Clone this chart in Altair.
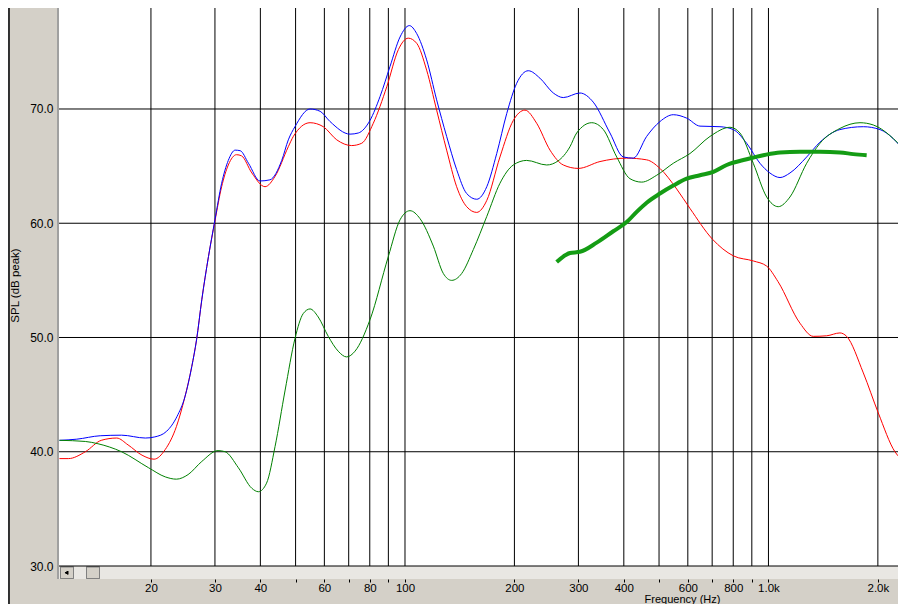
import altair as alt
import pandas as pd

# ---- data (frequency in Hz, level in dB) ----
blue_freq = [11.2, 12.5, 14.5, 16.6, 19.3, 20.5, 22.1, 23.6, 24.8, 25.9, 26.7, 27.6, 28.8, 30.0,
             31.3, 32.65, 34.1, 35.2, 37.1, 39.9, 42.5, 45.8, 47.75, 49.8, 54.8, 58.4, 62.2, 70.6,
             74.4, 80.1, 85.4, 90.9, 96.9, 102.8, 107.7, 114.7, 122.2, 130.2, 138.7, 147.8, 157.5,
             167.9, 178.8, 190.5, 202.9, 218.4, 235.1, 255.9, 272.6, 303.0, 329.6, 366.4, 398.7,
             424.8, 462.3, 502.9, 547.2, 595.7, 648.1, 735.6, 800.2, 871.0, 947.5, 1009, 1076,
             1146, 1274, 1386, 1573, 1824, 2027, 2389]
blue_db = [41.0, 41.1, 41.4, 41.45, 41.2, 41.3, 41.8, 43.1, 44.8, 47.45, 49.8, 53.3, 57.1, 60.3,
           63.5, 65.5, 66.4, 66.35, 65.25, 63.7, 63.8, 65.5, 67.3, 68.45, 70.0, 69.8, 68.9, 67.8,
           67.9, 69.0, 71.1, 73.7, 76.3, 77.3, 76.6, 74.3, 70.8, 67.6, 64.7, 62.6, 62.1,
           63.2, 66.1, 69.6, 72.25, 73.35, 72.7, 71.4, 71.0, 71.4, 70.6, 67.9, 65.8,
           65.7, 67.6, 68.9, 69.5, 69.2, 68.5, 68.45, 68.2, 67.0, 65.25, 64.4, 64.0,
           64.4, 65.8, 67.1, 68.2, 68.45, 68.2, 66.2]

red_freq = [11.2, 11.85, 13.2, 14.6, 16.1, 17.3, 18.9, 20.4, 21.9, 23.5, 24.8, 25.9, 26.7, 27.6,
            28.8, 30.0, 31.3, 32.65, 34.4, 35.5, 37.9, 41.2, 43.9, 47.75, 49.3, 54.8, 59.6, 64.9,
            71.3, 76.0, 81.8, 89.1, 95.9, 102.1, 107.7, 114.7, 122.2, 130.2, 138.7, 147.8, 157.5,
            167.9, 182.5, 198.6, 213.8, 230.3, 250.6, 272.6, 299.7, 343.9, 407.3, 462.3, 502.9,
            559.1, 608.1, 701.5, 800.2, 908.3, 988.8, 1062, 1221, 1328, 1446, 1573, 1641, 1824,
            2005, 2228, 2389]
red_db = [39.4, 39.4, 40.0, 41.0, 41.2, 40.6, 39.7, 39.35, 40.2, 42.2, 44.8, 47.45, 49.8, 53.3,
          57.1, 60.2, 63.2, 65.1, 66.0, 65.9, 64.4, 63.2, 64.1, 66.7, 67.6, 68.8, 68.45, 67.3,
          66.8, 67.0, 68.75, 71.95, 75.2, 76.2, 75.75, 73.4, 69.9, 66.4, 63.2, 61.45, 60.95,
          62.0, 65.8, 69.0, 69.9, 68.75, 66.4, 65.1, 64.8, 65.4, 65.7, 65.55, 64.8,
          63.0, 61.3, 58.6, 57.15, 56.7, 56.25, 54.9, 51.25, 50.1, 50.15, 50.4, 50.1, 46.9,
          43.4, 40.0, 39.05]

green_freq = [11.2, 13.2, 14.3, 16.6, 19.7, 21.9, 23.5, 25.3, 27.6, 30.6, 32.0, 34.8, 37.9, 39.5,
              41.6, 43.9, 46.8, 49.8, 52.5, 54.8, 57.7, 61.5, 65.5, 69.1, 72.85, 80.1, 90.0, 96.9,
              103.2, 110.0, 119.65, 127.5, 134.4, 143.2, 154.2, 167.9, 182.5, 198.6, 216.1, 245.4,
              263.6, 284.4, 296.7, 326.4, 351.3, 382.4, 415.9, 447.9, 492.5, 547.2, 608.1, 690.5,
              783.8, 834.8, 908.3, 988.8, 1064, 1146, 1274, 1386, 1573, 1786, 1943, 2389]
green_db = [41.0, 40.9, 40.7, 40.0, 38.6, 37.8, 37.6, 38.0, 39.15, 40.1, 40.0, 38.6, 36.8, 36.5,
            37.25, 40.45, 45.4, 49.9, 52.1, 52.5, 51.8, 50.1, 48.8, 48.3, 48.8, 51.55, 57.1, 60.3,
            61.1, 60.4, 58.0, 55.6, 55.0, 55.6, 57.7, 60.6, 63.5, 65.1, 65.5, 65.1,
            65.45, 66.7, 67.9, 68.8, 68.2, 65.8, 63.9, 63.6, 64.2, 65.25, 66.1, 67.6,
            68.4, 67.9, 65.25, 62.3, 61.45, 62.3, 65.25, 67.0, 68.3, 68.8, 68.6, 66.3]

thick_freq = [261.4, 284.4, 303.0, 336.8, 374.1, 407.3, 434.0, 462.3, 502.9, 547.2, 595.7, 648.1,
              705.2, 767.4, 871.0, 967.6, 1076, 1221, 1386, 1573, 1712, 1863]
thick_db = [56.6, 57.4, 57.5, 58.3, 59.3, 60.1, 61.0, 61.8, 62.6, 63.3, 63.9, 64.2,
            64.5, 65.1, 65.6, 65.95, 66.2, 66.25, 66.25, 66.2, 66.05, 65.95]

series_names = ["red", "blue", "green"]
series_colors = ["#FF0000", "#0000FF", "#008000"]

grid_x = [20, 30, 40, 50, 60, 70, 80, 90, 100, 200, 300, 400, 500, 600, 700, 800, 900, 1000, 2000]
grid_y = [30, 40, 50, 60, 70]
x_domain = [11.17, 2272]
y_domain = [30, 78.84]

# ---- tables ----
rows = []
for name, fs, ds in [("red", red_freq, red_db), ("blue", blue_freq, blue_db),
                     ("green", green_freq, green_db)]:
    for i, (f, d) in enumerate(zip(fs, ds)):
        rows.append({"series": name, "freq": f, "db": d, "order": i})
curves = pd.DataFrame(rows)
thick = pd.DataFrame({"freq": thick_freq, "db": thick_db})
gx = pd.DataFrame({"freq": grid_x})
gy = pd.DataFrame({"db": grid_y})

FONT = "Liberation Sans"
W, H = 839, 558
BOTTOM = 38
SB = 13  # scrollbar strip height
GRAY = "#D4D0C8"

x_scale = alt.Scale(type="log", domain=x_domain, nice=False)
y_scale = alt.Scale(domain=y_domain, nice=False, zero=False)

label_expr = ("indexof([50,70,90,500,700,900], datum.value) >= 0 ? '' : "
              "(datum.value >= 1000 ? format(datum.value/1000, '.1f') + 'k' : format(datum.value, 'd'))")

x_axis = alt.Axis(values=grid_x, labelExpr=label_expr, grid=False, domain=False,
                  ticks=True, tickSize=3, tickColor="black", tickWidth=1, offset=SB,
                  labelPadding=0, labelFont=FONT, labelFontSize=11.5, labelColor="black",
                  labelFlush=False, labelOverlap=False, labelBaseline="top",
                  title="Frequency (Hz)", titleFont=FONT, titleFontSize=11,
                  titleFontWeight="normal", titleColor="black", titleX=623, titleY=20,
                  titleAlign="center", titleBaseline="middle", titleAnchor="start")
y_axis = alt.Axis(values=grid_y, format=".1f", grid=False, domain=False, ticks=False,
                  labelPadding=6, labelFont=FONT, labelFontSize=12, labelColor="black",
                  title="SPL (dB peak)", titleFont=FONT, titleFontSize=11.5,
                  titleFontWeight="normal", titleColor="black", titleX=-44, titleY=277,
                  titleAngle=270, titleAlign="center", titleBaseline="middle",
                  titleAnchor="start")

X = alt.X("freq:Q", scale=x_scale, axis=x_axis)
Y = alt.Y("db:Q", scale=y_scale, axis=y_axis)

vgrid = alt.Chart(gx).mark_rule(color="black", strokeWidth=1).encode(x=X)
hgrid = alt.Chart(gy).mark_rule(color="black", strokeWidth=1).encode(y=Y)

lines = alt.Chart(curves).mark_line(strokeWidth=1, interpolate="monotone", clip=True).encode(
    x=X, y=Y,
    color=alt.Color("series:N", scale=alt.Scale(domain=series_names, range=series_colors),
                    legend=None, sort=series_names),
    detail="series:N",
    order="order:Q",
)
thick_line = alt.Chart(thick).mark_line(strokeWidth=4, color="#149C14",
                                         interpolate="monotone", clip=True).encode(x=X, y=Y)

# window chrome: scrollbar strip, buttons, frame lines
strip = alt.Chart(gy).mark_rect(color="#E9E7E3").encode(
    x=alt.value(0), x2=alt.value(W), y=alt.value(H + 0.5), y2=alt.value(H + SB))
btn_left = alt.Chart(gy).mark_rect(color=GRAY, stroke="#808080", strokeWidth=1).encode(
    x=alt.value(1.5), x2=alt.value(14.5), y=alt.value(H + 1), y2=alt.value(H + SB - 0.5))
btn_thumb = alt.Chart(gy).mark_rect(color=GRAY, stroke="#808080", strokeWidth=1).encode(
    x=alt.value(27.5), x2=alt.value(40.5), y=alt.value(H + 1), y2=alt.value(H + SB - 0.5))
arrow = alt.Chart(gy).mark_point(shape="triangle-left", filled=True, color="black", size=14,
                                 opacity=1).encode(x=alt.value(7.5), y=alt.value(H + 6.75))
frame_left = alt.Chart(gy).mark_rule(color="#A0A0A0", strokeWidth=2).encode(
    x=alt.value(-1), y=alt.value(0), y2=alt.value(H + SB))
edge_left = alt.Chart(gy).mark_rule(color="#303030", strokeWidth=1.5).encode(
    x=alt.value(-50.25), y=alt.value(0), y2=alt.value(H + BOTTOM))

chart = alt.layer(
    strip, btn_left, btn_thumb, arrow, frame_left, edge_left,
    vgrid, hgrid, lines, thick_line,
).properties(
    width=W, height=H,
    background=GRAY,
    autosize=alt.AutoSizeParams(type="none"),
    padding={"left": 51, "top": 0, "right": 0, "bottom": BOTTOM},
).configure_view(
    fill="white", stroke=None,
)

chart.save("out.html", embed_options={"renderer": "svg", "actions": False})
